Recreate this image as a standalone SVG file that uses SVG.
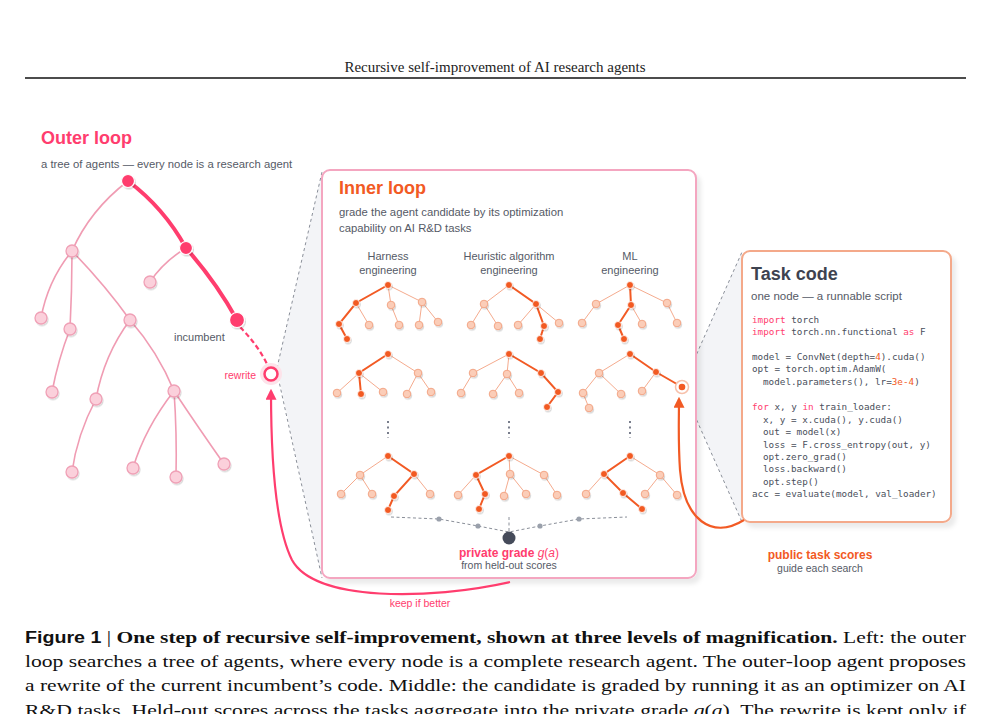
<svg xmlns="http://www.w3.org/2000/svg" width="991" height="714" viewBox="0 0 991 714">
<defs>
<style>
.sans{font-family:"Liberation Sans",Arial,sans-serif}
.serif{font-family:"Liberation Serif","Times New Roman",serif}
.mono{font-family:"DejaVu Sans Mono","Liberation Mono",monospace;font-size:9.3px;fill:#4a4f5c}
.kw{fill:#ff3d6e}.num{fill:#f25a24}
.oe{fill:none;stroke:#f09cb3;stroke-width:1.6}
.oh{fill:none;stroke:#ff3d6e;stroke-width:4;stroke-linecap:round}
.on{fill:#fbd0db;stroke:#f0a0b6;stroke-width:1.3}
.of{fill:#ff3d6e;stroke:#fff;stroke-width:1.2}
.me{fill:none;stroke:#f5ab8e;stroke-width:1}
.mh{fill:none;stroke:#f25a24;stroke-width:2;stroke-linecap:round}
.mn{fill:#fbcdb8;stroke:#f2a585;stroke-width:1}
.mf{fill:#f25a24;stroke:#fff;stroke-width:0.8}
.zoom{fill:#f3f4f7;stroke:none}
.zl{stroke:#8a8f99;stroke-width:1;stroke-dasharray:3 3;fill:none}
</style>
<filter id="sh" x="-10%" y="-10%" width="130%" height="130%"><feDropShadow dx="4" dy="5" stdDeviation="2" flood-color="#000" flood-opacity="0.08"/></filter>
<filter id="nsh" x="-50%" y="-50%" width="200%" height="200%"><feDropShadow dx="1" dy="1.5" stdDeviation="0.6" flood-color="#000" flood-opacity="0.15"/></filter>
<marker id="ap" viewBox="0 0 10 10" refX="8" refY="5" markerWidth="5" markerHeight="5" orient="auto"><path d="M0,0L10,5L0,10z" fill="#ff3d6e"/></marker>
<marker id="ao" viewBox="0 0 10 10" refX="8" refY="5" markerWidth="5" markerHeight="5" orient="auto"><path d="M0,0L10,5L0,10z" fill="#f25a24"/></marker>
</defs>
<rect width="991" height="714" fill="#fff"/>
<text class="serif" x="495" y="72" text-anchor="middle" font-size="15" fill="#222">Recursive self-improvement of AI research agents</text>
<line x1="25" y1="78" x2="966" y2="78" stroke="#111" stroke-width="1.5"/>

<g id="zooms">
<path class="zoom" d="M277,368 L322,172 L322,578 Z"/>
<path class="zl" d="M277,368 L322,172 M277,372 L322,578"/>
<path class="zoom" d="M682,387 L742,252 L742,522 Z"/>
<path class="zl" d="M682,387 L742,252 M682,387 L742,522"/>
</g>

<g id="outer-loop">
<text class="sans" x="41" y="144" font-size="18" font-weight="bold" fill="#ff3d6e">Outer loop</text>
<text class="sans" x="41" y="168" font-size="11.3" fill="#555a66">a tree of agents — every node is a research agent</text>
<g id="outer-edges">
<path class="oe" d="M128,181 Q90,210 72,251"/>
<path class="oe" d="M72,251 Q48,280 41,318"/>
<path class="oe" d="M72,251 Q72,290 70,329"/>
<path class="oe" d="M72,251 Q105,285 130,320"/>
<path class="oe" d="M70,329 Q58,360 52,392"/>
<path class="oe" d="M130,320 Q104,355 96,399"/>
<path class="oe" d="M130,320 Q158,352 174,391"/>
<path class="oe" d="M96,399 Q77,435 72,472"/>
<path class="oe" d="M174,391 Q145,428 133,468"/>
<path class="oe" d="M174,391 Q177,433 176,477"/>
<path class="oe" d="M174,391 Q200,430 224,464"/>
<path class="oe" d="M186,248 Q163,262 150,282"/>
<path class="oh" d="M128,181 Q164,208 186,248"/>
<path class="oh" d="M186,248 Q216,282 237,320"/>
<path fill="none" stroke="#ff3d6e" stroke-width="2.2" stroke-dasharray="5 3" d="M240,327 Q258,345 268,366"/>
</g>
<g id="outer-nodes" filter="url(#nsh)">
<circle class="on" cx="72" cy="251" r="6"/><circle class="on" cx="41" cy="318" r="6"/><circle class="on" cx="70" cy="329" r="6"/>
<circle class="on" cx="130" cy="320" r="6"/><circle class="on" cx="52" cy="392" r="6"/><circle class="on" cx="96" cy="399" r="6"/>
<circle class="on" cx="174" cy="391" r="6"/><circle class="on" cx="72" cy="472" r="6"/><circle class="on" cx="133" cy="468" r="6"/>
<circle class="on" cx="176" cy="477" r="6"/><circle class="on" cx="224" cy="464" r="6"/><circle class="on" cx="150" cy="282" r="6"/>
<circle class="of" cx="128" cy="181" r="6.5"/><circle class="of" cx="186" cy="248" r="6.5"/><circle class="of" cx="237" cy="320" r="7.5"/>
</g>
<text class="sans" x="174" y="341" font-size="11" fill="#555a66">incumbent</text>
<g id="rewrite-node">
<circle cx="271" cy="374" r="11" fill="#fde3ea"/>
<circle cx="271" cy="374" r="6.5" fill="#fff" stroke="#ff3d6e" stroke-width="2.5"/>
<text class="sans" x="256" y="379" text-anchor="end" font-size="10.5" fill="#ff3d6e">rewrite</text>
</g>
</g>

<g id="inner-loop">
<rect x="322" y="170" width="374" height="408" rx="8" fill="#fff" stroke="#f4a6c0" stroke-width="2" filter="url(#sh)"/>
<text class="sans" x="339" y="194" font-size="18" font-weight="bold" fill="#f25a24">Inner loop</text>
<text class="sans" x="339" y="216" font-size="11.3" fill="#555a66">grade the agent candidate by its optimization</text>
<text class="sans" x="339" y="232" font-size="11.3" fill="#555a66">capability on AI R&amp;D tasks</text>
<g class="sans" font-size="11" fill="#555a66" text-anchor="middle">
<text x="388" y="260">Harness</text><text x="388" y="274">engineering</text>
<text x="509" y="260">Heuristic algorithm</text><text x="509" y="274">engineering</text>
<text x="630" y="260">ML</text><text x="630" y="274">engineering</text>
</g>

<g id="mini-edges">
<path class="me" d="M388,285L391,305M388,285L422,302M356,303L369,325M391,305L399,325M422,302L419,325M422,302L438,322"/>
<path class="mh" d="M388,285L356,303L339,324L347,339"/>
<path class="me" d="M509,285L484,304M484,304L471,325M484,304L498,326M536,304L518,325M536,304L559,323"/>
<path class="mh" d="M509,285L536,304L544,326L540,339"/>
<path class="me" d="M630,285L596,304M630,285L667,303M596,304L582,323M631,305L642,324M667,303L677,323"/>
<path class="mh" d="M630,285L631,305L618,325L624,339"/>
<path class="me" d="M388,354L418,373M359,373L337,393M359,373L383,392M418,373L407,394M418,373L431,392"/>
<path class="mh" d="M388,354L359,373L361,394"/>
<path class="me" d="M509,354L473,373M509,354L507,374M473,373L461,393M507,374L493,394M507,374L519,393"/>
<path class="mh" d="M509,354L541,373L558,392L547,407"/>
<path class="me" d="M630,354L599,373M599,373L583,393M599,373L621,394M583,393L589,408M656,372L642,391"/>
<path class="mh" d="M630,354L656,372L682,387"/>
<path class="me" d="M388,456L360,475M360,475L341,494M360,475L372,494M414,474L430,494"/>
<path class="mh" d="M388,456L414,474L394,496L388,510"/>
<path class="me" d="M509,456L510,474M509,456L544,475M476,475L458,495M510,474L504,496M510,474L526,494M544,475L557,495"/>
<path class="mh" d="M509,456L476,475L485,494L479,509"/>
<path class="me" d="M630,456L660,475M604,474L586,494M660,475L645,494M660,475L677,495"/>
<path class="mh" d="M630,456L604,474L623,493L642,509"/>
</g>
<g id="mini-nodes" filter="url(#nsh)">
<g class="mn">
<circle cx="391" cy="305" r="3.8"/><circle cx="422" cy="302" r="3.8"/><circle cx="369" cy="325" r="3.8"/><circle cx="399" cy="325" r="3.8"/><circle cx="419" cy="325" r="3.8"/><circle cx="438" cy="322" r="3.8"/>
<circle cx="484" cy="304" r="3.8"/><circle cx="471" cy="325" r="3.8"/><circle cx="498" cy="326" r="3.8"/><circle cx="518" cy="325" r="3.8"/><circle cx="559" cy="323" r="3.8"/>
<circle cx="596" cy="304" r="3.8"/><circle cx="667" cy="303" r="3.8"/><circle cx="582" cy="323" r="3.8"/><circle cx="642" cy="324" r="3.8"/><circle cx="677" cy="323" r="3.8"/>
<circle cx="418" cy="373" r="3.8"/><circle cx="337" cy="393" r="3.8"/><circle cx="383" cy="392" r="3.8"/><circle cx="407" cy="394" r="3.8"/><circle cx="431" cy="392" r="3.8"/>
<circle cx="473" cy="373" r="3.8"/><circle cx="507" cy="374" r="3.8"/><circle cx="461" cy="393" r="3.8"/><circle cx="493" cy="394" r="3.8"/><circle cx="519" cy="393" r="3.8"/>
<circle cx="599" cy="373" r="3.8"/><circle cx="583" cy="393" r="3.8"/><circle cx="621" cy="394" r="3.8"/><circle cx="589" cy="408" r="3.8"/><circle cx="642" cy="391" r="3.8"/>
<circle cx="360" cy="475" r="3.8"/><circle cx="341" cy="494" r="3.8"/><circle cx="372" cy="494" r="3.8"/><circle cx="430" cy="494" r="3.8"/>
<circle cx="510" cy="474" r="3.8"/><circle cx="544" cy="475" r="3.8"/><circle cx="458" cy="495" r="3.8"/><circle cx="504" cy="496" r="3.8"/><circle cx="526" cy="494" r="3.8"/><circle cx="557" cy="495" r="3.8"/>
<circle cx="660" cy="475" r="3.8"/><circle cx="586" cy="494" r="3.8"/><circle cx="645" cy="494" r="3.8"/><circle cx="677" cy="495" r="3.8"/>
</g>
<g class="mf">
<circle cx="388" cy="285" r="3.5"/><circle cx="356" cy="303" r="3.5"/><circle cx="339" cy="324" r="3.5"/><circle cx="347" cy="339" r="3.5"/>
<circle cx="509" cy="285" r="3.5"/><circle cx="536" cy="304" r="3.5"/><circle cx="544" cy="326" r="3.5"/><circle cx="540" cy="339" r="3.5"/>
<circle cx="630" cy="285" r="3.5"/><circle cx="631" cy="305" r="3.5"/><circle cx="618" cy="325" r="3.5"/><circle cx="624" cy="339" r="3.5"/>
<circle cx="388" cy="354" r="3.5"/><circle cx="359" cy="373" r="3.5"/><circle cx="361" cy="394" r="3.5"/>
<circle cx="509" cy="354" r="3.5"/><circle cx="541" cy="373" r="3.5"/><circle cx="558" cy="392" r="3.5"/><circle cx="547" cy="407" r="3.5"/>
<circle cx="630" cy="354" r="3.5"/><circle cx="656" cy="372" r="3.5"/>
<circle cx="388" cy="456" r="3.5"/><circle cx="414" cy="474" r="3.5"/><circle cx="394" cy="496" r="3.5"/><circle cx="388" cy="510" r="3.5"/>
<circle cx="509" cy="456" r="3.5"/><circle cx="476" cy="475" r="3.5"/><circle cx="485" cy="494" r="3.5"/><circle cx="479" cy="509" r="3.5"/>
<circle cx="630" cy="456" r="3.5"/><circle cx="604" cy="474" r="3.5"/><circle cx="623" cy="493" r="3.5"/><circle cx="642" cy="509" r="3.5"/>
</g>
</g>
<g id="task-node">
<circle cx="682" cy="387" r="6.5" fill="#fff" stroke="#f7c1ab" stroke-width="1.5"/>
<circle cx="682" cy="387" r="3.3" fill="#f25a24"/>
</g>
<g fill="none" stroke="#6b7080" stroke-width="1.8" stroke-dasharray="2 3.5">
<path d="M388,421V438M509,421V438M630,421V438"/>
</g>
<g id="aggregate">
<path d="M391,517 L439,519 L478,526 L509,532 L540,526 L579,519 L627,517 M509,517 L509,532" fill="none" stroke="#8a8f99" stroke-width="1" stroke-dasharray="3 2.5"/>
<circle cx="439" cy="519" r="2.6" fill="#9aa0ab"/><circle cx="478" cy="526" r="2.6" fill="#9aa0ab"/>
<circle cx="540" cy="526" r="2.6" fill="#9aa0ab"/><circle cx="579" cy="519" r="2.6" fill="#9aa0ab"/>
<circle cx="509" cy="538" r="6.5" fill="#454b5a"/>
<text class="sans" x="509" y="557" text-anchor="middle" font-size="12" fill="#ff3d6e"><tspan font-weight="bold">private grade </tspan><tspan font-style="italic">g</tspan>(<tspan font-style="italic">a</tspan>)</text>
<text class="sans" x="509" y="569" text-anchor="middle" font-size="10.5" fill="#555a66">from held-out scores</text>
</g>
</g>

<g id="task-code">
<rect x="742" y="251" width="209" height="271" rx="8" fill="#fff" stroke="#f4a98a" stroke-width="2" filter="url(#sh)"/>
<text class="sans" x="751" y="280" font-size="18" font-weight="bold" fill="#3e4350">Task code</text>
<text class="sans" x="751" y="300" font-size="11.5" fill="#555a66">one node — a runnable script</text>
<g class="mono">
<text x="752" y="323"><tspan class="kw">import</tspan> torch</text>
<text x="752" y="335"><tspan class="kw">import</tspan> torch.nn.functional <tspan class="kw">as</tspan> F</text>
<text x="752" y="360">model = ConvNet(depth=<tspan class="num">4</tspan>).cuda()</text>
<text x="752" y="372">opt = torch.optim.AdamW(</text>
<text x="763" y="385">model.parameters(), lr=<tspan class="num">3e-4</tspan>)</text>
<text x="752" y="410"><tspan class="kw">for</tspan> x, y <tspan class="kw">in</tspan> train_loader:</text>
<text x="763" y="423">x, y = x.cuda(), y.cuda()</text>
<text x="763" y="435">out = model(x)</text>
<text x="763" y="448">loss = F.cross_entropy(out, y)</text>
<text x="763" y="460">opt.zero_grad()</text>
<text x="763" y="472">loss.backward()</text>
<text x="763" y="485">opt.step()</text>
<text x="752" y="497">acc = evaluate(model, val_loader)</text>
</g>
</g>

<g id="connectors">
<path d="M510,582 C430,600 315,602 292,560 C276,528 271,460 271,391" fill="none" stroke="#ff3d6e" stroke-width="2.2" marker-end="url(#ap)"/>
<text class="sans" x="420" y="607" text-anchor="middle" font-size="10.5" fill="#ff3d6e">keep if better</text>
<path d="M744,520 C712,540 684,520 680,470 C678,440 679,420 679,399" fill="none" stroke="#f25a24" stroke-width="2.2" marker-end="url(#ao)"/>
<text class="sans" x="820" y="559" text-anchor="middle" font-size="12" font-weight="bold" fill="#f25a24">public task scores</text>
<text class="sans" x="820" y="572" text-anchor="middle" font-size="10.5" fill="#555a66">guide each search</text>
</g>

<g id="caption" class="serif" font-size="17.5" fill="#111">
<text x="25" y="643" textLength="941" lengthAdjust="spacingAndGlyphs"><tspan class="sans" font-weight="bold" font-size="16">Figure 1</tspan> | <tspan font-weight="bold">One step of recursive self-improvement, shown at three levels of magnification.</tspan> Left: the outer</text>
<text x="25" y="667" textLength="941" lengthAdjust="spacingAndGlyphs">loop searches a tree of agents, where every node is a complete research agent. The outer-loop agent proposes</text>
<text x="25" y="691" textLength="941" lengthAdjust="spacingAndGlyphs">a rewrite of the current incumbent’s code. Middle: the candidate is graded by running it as an optimizer on AI</text>
<text x="25" y="716" textLength="941" lengthAdjust="spacingAndGlyphs">R&amp;D tasks. Held-out scores across the tasks aggregate into the private grade <tspan font-style="italic">g</tspan>(<tspan font-style="italic">a</tspan>). The rewrite is kept only if</text>
</g>
</svg>
